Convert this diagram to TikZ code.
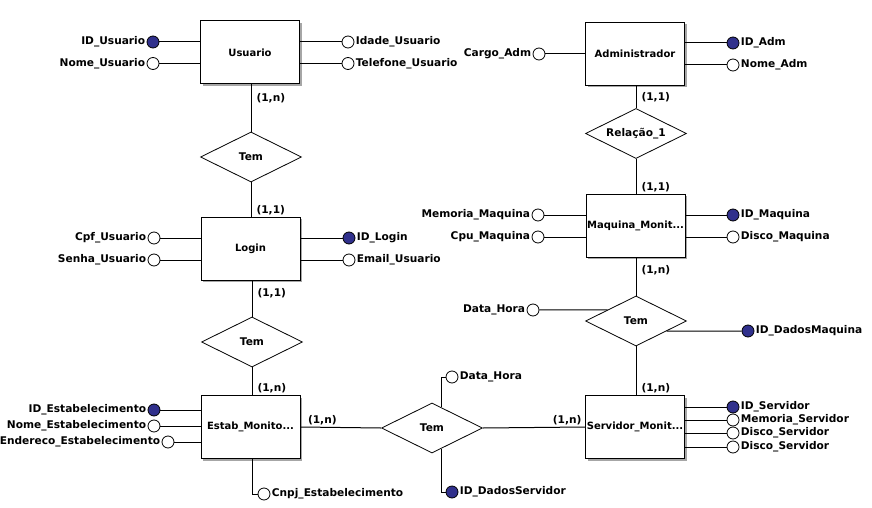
\documentclass[tikz,border=0pt]{standalone}
\usepackage{fontspec}
\setmainfont{DejaVu Sans}
\usetikzlibrary{shapes.geometric,shadows,calc}

\definecolor{chaveazul}{RGB}{48,48,140}

\tikzset{
	entidade/.style={draw, fill=white, line width=1pt, minimum width=99pt, minimum height=63pt, inner sep=0pt,
		font=\fontsize{10}{12}\selectfont\bfseries,
		drop shadow={shadow xshift=2pt, shadow yshift=-2pt, fill=gray!70, opacity=1}},
	relacao/.style={draw, fill=white, diamond, aspect=2, line width=0.8pt, minimum width=101pt, minimum height=50pt, inner sep=0pt},
	atributo/.style={draw, circle, fill=white, line width=0.8pt, minimum size=12pt, inner sep=0pt, label distance=1pt},
	chave/.style={atributo, fill=chaveazul},
	card/.style={inner sep=1pt},
	every label/.style={inner sep=1pt},
}

\begin{document}
\begin{tikzpicture}[x=1pt, y=-1pt, line width=1pt, font=\fontsize{10.6}{12}\selectfont\bfseries]
		\useasboundingbox (0,0) rectangle (872,508);
		
		% entidades
		\node [entidade] (usuario) at (250,52.5) {Usuario};
		\node [entidade] (login) at (250.5,248.5) {Login};
		\node [entidade] (estab) at (250.5,427) {Estab\_Monito...};
		\node [entidade] (admin) at (635,54) {Administrador};
		\node [entidade] (maquina) at (635.5,225.5) {Maquina\_Monit...};
		\node [entidade] (servidor) at (635,427) {Servidor\_Monit...};
		
		% relacionamentos
		\node [relacao] (temA) at (251,157) {Tem};
		\node [relacao] (temB) at (252,342) {Tem};
		\node [relacao] (temD) at (432,428) {Tem};
		\node [relacao] (relacao1) at (636,133.5) {Relação\_1};
		\node [relacao] (temC) at (636,321) {Tem};
		
		% atributos
		\node [chave, label={left:ID\_Usuario}] (idUsuario) at (153,42) {};
		\node [atributo, label={left:Nome\_Usuario}] (nomeUsuario) at (153,63.5) {};
		\node [atributo, label={right:Idade\_Usuario}] (idadeUsuario) at (348,42) {};
		\node [atributo, label={right:Telefone\_Usuario}] (telefoneUsuario) at (348,63.5) {};
		
		\node [atributo, label={left:Cargo\_Adm}] (cargoAdm) at (539,54) {};
		\node [chave, label={right:ID\_Adm}] (idAdm) at (733,43) {};
		\node [atributo, label={right:Nome\_Adm}] (nomeAdm) at (733,65) {};
		
		\node [atributo, label={left:Cpf\_Usuario}] (cpfUsuario) at (154,238) {};
		\node [atributo, label={left:Senha\_Usuario}] (senhaUsuario) at (154,260) {};
		\node [chave, label={right:ID\_Login}] (idLogin) at (349,238) {};
		\node [atributo, label={right:Email\_Usuario}] (emailUsuario) at (349,260) {};
		
		\node [atributo, label={left:Memoria\_Maquina}] (memoriaMaquina) at (538,215) {};
		\node [atributo, label={left:Cpu\_Maquina}] (cpuMaquina) at (538,237) {};
		\node [chave, label={right:ID\_Maquina}] (idMaquina) at (733,215) {};
		\node [atributo, label={right:Disco\_Maquina}] (discoMaquina) at (733,237) {};
		
		\node [atributo, label={left:Data\_Hora}] (dataHoraA) at (533,310) {};
		\node [chave, label={right:ID\_DadosMaquina}] (idDadosMaquina) at (748,331) {};
		
		\node [chave, label={left:ID\_Estabelecimento}] (idEstab) at (154,410) {};
		\node [atributo, label={left:Nome\_Estabelecimento}] (nomeEstab) at (154,426) {};
		\node [atributo, label={left:Endereco\_Estabelecimento}] (enderecoEstab) at (168,442) {};
		\node [atributo, label={right:Cnpj\_Estabelecimento}] (cnpjEstab) at (264,494) {};
		
		\node [atributo, label={right:Data\_Hora}] (dataHoraB) at (452,377) {};
		\node [chave, label={right:ID\_DadosServidor}] (idDadosServidor) at (452,492) {};
		
		\node [chave, label={right:ID\_Servidor}] (idServidor) at (733,407) {};
		\node [atributo, label={right:Memoria\_Servidor}] (memoriaServidor) at (733,420) {};
		\node [atributo, label={right:Disco\_Servidor}] (discoServidor) at (733,433) {};
		\node [atributo, label={right:Disco\_Servidor}] (discoServidorB) at (733,447) {};
		
		% ligacoes dos atributos
		\draw (idUsuario) -- (idUsuario -| usuario.west);
		\draw (nomeUsuario) -- (nomeUsuario -| usuario.west);
		\draw (usuario.east |- idadeUsuario) -- (idadeUsuario);
		\draw (usuario.east |- telefoneUsuario) -- (telefoneUsuario);
		\draw (cargoAdm) -- (cargoAdm -| admin.west);
		\draw (admin.east |- idAdm) -- (idAdm);
		\draw (admin.east |- nomeAdm) -- (nomeAdm);
		\draw (cpfUsuario) -- (cpfUsuario -| login.west);
		\draw (senhaUsuario) -- (senhaUsuario -| login.west);
		\draw (login.east |- idLogin) -- (idLogin);
		\draw (login.east |- emailUsuario) -- (emailUsuario);
		\draw (memoriaMaquina) -- (memoriaMaquina -| maquina.west);
		\draw (cpuMaquina) -- (cpuMaquina -| maquina.west);
		\draw (maquina.east |- idMaquina) -- (idMaquina);
		\draw (maquina.east |- discoMaquina) -- (discoMaquina);
		\draw (dataHoraA) -- ($(temC.west)!0.44!(temC.north)$);
		\draw ($(temC.east)!0.4!(temC.south)$) -- (idDadosMaquina);
		\draw (idEstab) -- (idEstab -| estab.west);
		\draw (nomeEstab) -- (nomeEstab -| estab.west);
		\draw (enderecoEstab) -- (enderecoEstab -| estab.west);
		\draw ([xshift=2pt]estab.south) |- (cnpjEstab);
		\draw ($(temD.north)!0.18!(temD.east)$) |- (dataHoraB);
		\draw ($(temD.south)!0.18!(temD.east)$) |- (idDadosServidor);
		\foreach \a in {idServidor, memoriaServidor, discoServidor, discoServidorB}
			\draw (servidor.east |- \a) -- (\a);
		
		% ligacoes dos relacionamentos
		\draw (usuario.south -| temA) -- node[card, pos=0.29, anchor=west, xshift=4pt] {(1,n)} (temA.north);
		\draw (temA.south) -- node[card, pos=0.83, anchor=west, xshift=4pt] {(1,1)} (login.north -| temA);
		\draw (login.south -| temB) -- node[card, pos=0.35, anchor=west, xshift=4pt] {(1,1)} (temB.north);
		\draw (temB.south) -- node[card, pos=0.76, anchor=west, xshift=4pt] {(1,n)} (estab.north -| temB);
		\draw (estab.east) -- node[card, pos=0, anchor=south west, xshift=6pt] {(1,n)} (temD.west);
		\draw (temD.east) -- node[card, pos=1, anchor=south east, xshift=-2pt] {(1,n)} (servidor.west);
		\draw (servidor.north -| temC) -- node[card, pos=0.14, anchor=west, xshift=4pt] {(1,n)} (temC.south);
		\draw (temC.north) -- node[card, pos=0.67, anchor=west, xshift=4pt] {(1,n)} (maquina.south -| temC);
		\draw (maquina.north -| relacao1) -- node[card, pos=0.17, anchor=west, xshift=4pt] {(1,1)} (relacao1.south);
		\draw (relacao1.north) -- node[card, pos=0.5, anchor=west, xshift=4pt] {(1,1)} (admin.south -| relacao1);
\end{tikzpicture}
\end{document}
